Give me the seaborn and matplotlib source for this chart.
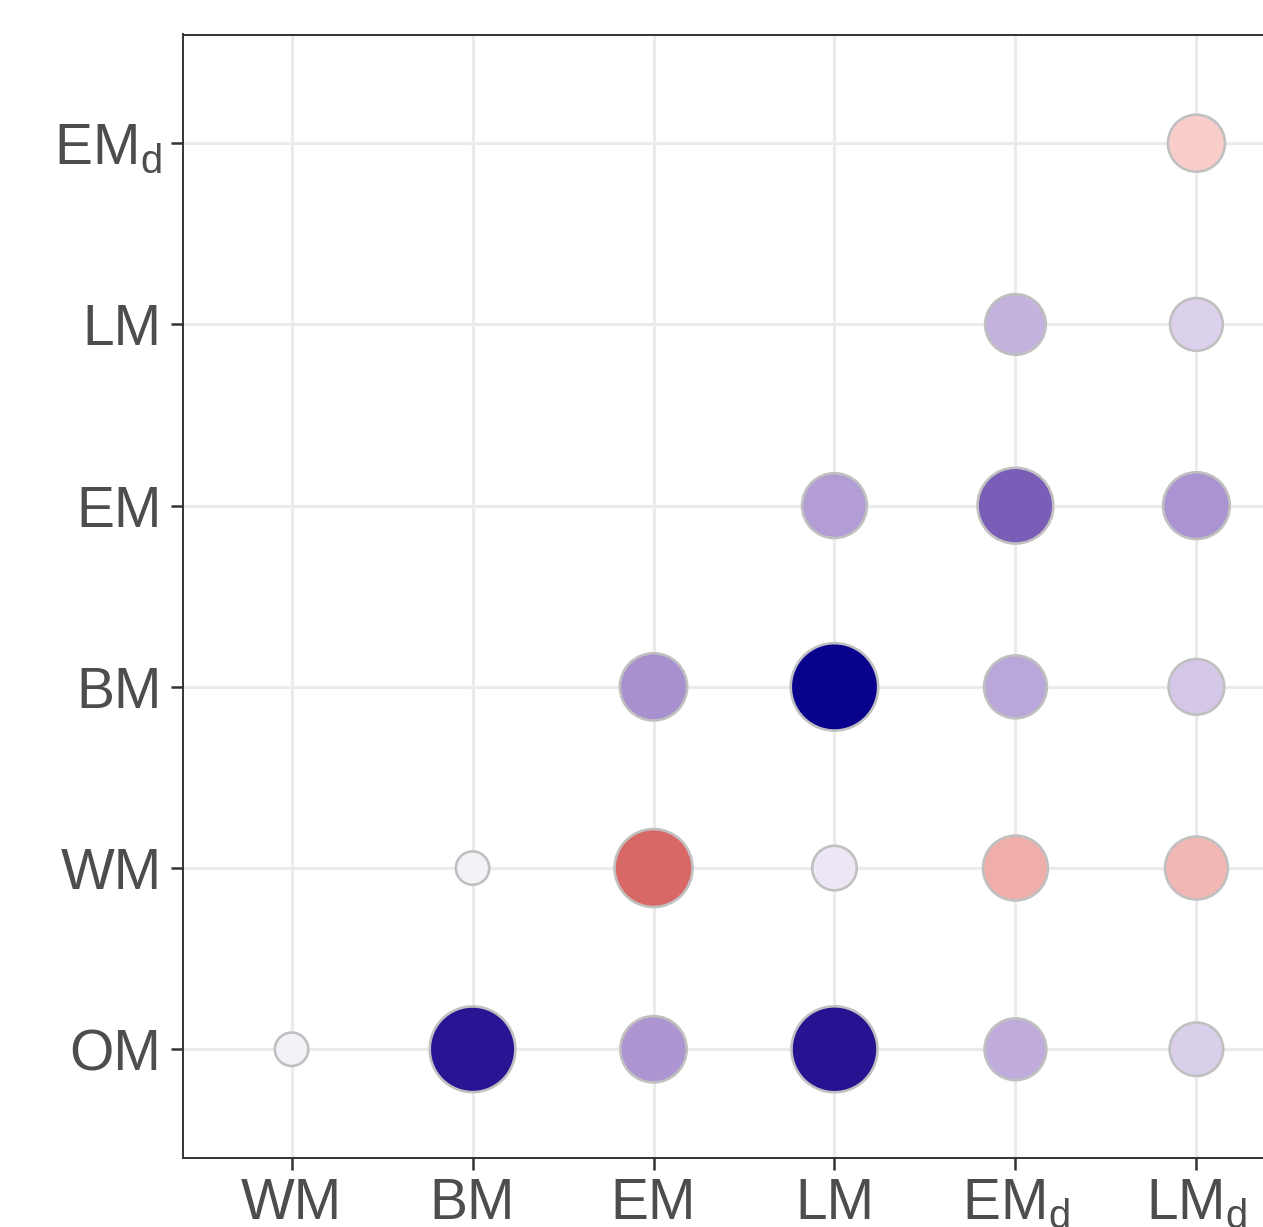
import numpy as np
import pandas as pd
import matplotlib
matplotlib.use("Agg")
import matplotlib.pyplot as plt
from matplotlib.colors import ListedColormap, to_rgb
import seaborn as sns

# ---------------- data ----------------
x_categories = ["WM", "BM", "EM", "LM", "EMd", "LMd"]
y_categories = ["OM", "WM", "BM", "EM", "LM", "EMd"]
tick_labels = {"OM": "OM", "WM": "WM", "BM": "BM", "EM": "EM", "LM": "LM",
               "EMd": r"EM$_\mathregular{d}$", "LMd": r"LM$_\mathregular{d}$"}

cell_x = ["WM", "BM", "EM", "LM", "EMd", "LMd",
          "BM", "EM", "LM", "EMd", "LMd",
          "EM", "LM", "EMd", "LMd",
          "LM", "EMd", "LMd",
          "EMd", "LMd",
          "LMd"]
cell_y = ["OM"] * 6 + ["WM"] * 5 + ["BM"] * 4 + ["EM"] * 3 + ["LM"] * 2 + ["EMd"]
cell_value = [-0.05, -0.93, -0.40, -0.94, -0.31, -0.18,
              -0.05, 0.69, -0.09, 0.37, 0.33,
              -0.42, -0.99, -0.33, -0.21,
              -0.37, -0.63, -0.41,
              -0.29, -0.17,
              0.23]

# ---------------- colour scale (Lab interpolation, like ggplot gradient2) ----------------
def srgb_to_lab(rgb):
    c = np.asarray(rgb, float)
    lin = np.where(c <= 0.04045, c / 12.92, ((c + 0.055) / 1.055) ** 2.4)
    M = np.array([[0.4124, 0.3576, 0.1805],
                  [0.2126, 0.7152, 0.0722],
                  [0.0193, 0.1192, 0.9505]])
    xyz = M @ lin / np.array([0.95047, 1.0, 1.08883])
    f = np.where(xyz > 0.008856, np.cbrt(xyz), 7.787 * xyz + 16 / 116)
    return np.array([116 * f[1] - 16, 500 * (f[0] - f[1]), 200 * (f[1] - f[2])])

def lab_to_srgb(lab):
    L, a, b = lab
    fy = (L + 16) / 116
    fx = fy + a / 500
    fz = fy - b / 200
    f = np.array([fx, fy, fz])
    xyz = np.where(f ** 3 > 0.008856, f ** 3, (f - 16 / 116) / 7.787)
    xyz = xyz * np.array([0.95047, 1.0, 1.08883])
    Minv = np.array([[3.2406, -1.5372, -0.4986],
                     [-0.9689, 1.8758, 0.0415],
                     [0.0557, -0.2040, 1.0570]])
    lin = np.clip(Minv @ xyz, 0, 1)
    c = np.where(lin <= 0.0031308, 12.92 * lin, 1.055 * lin ** (1 / 2.4) - 0.055)
    return np.clip(c, 0, 1)

low, mid, high = "#00008B", "#FFFFFF", "#B8002C"
lab_low, lab_mid, lab_high = (srgb_to_lab(to_rgb(c)) for c in (low, mid, high))
grid = np.linspace(-1, 1, 513)
colors = []
for v in grid:
    if v < 0:
        lab = lab_mid + (lab_low - lab_mid) * (-v)
    else:
        lab = lab_mid + (lab_high - lab_mid) * v
    colors.append(lab_to_srgb(lab))
cmap = ListedColormap(colors)

# ---------------- size scale (area palette, like ggplot scale_size) ----------------
abs_vals = np.abs(cell_value)
vmin, vmax = abs_vals.min(), abs_vals.max()
dmin_px, dmax_px = 36, 90          # outer diameter range in pixels
edge_px = 2.6
size_map = {}
for v in sorted(set(abs_vals)):
    xr = (v - vmin) / (vmax - vmin)
    d_px = dmin_px + (dmax_px - dmin_px) * np.sqrt(xr) - edge_px
    size_map[v] = (d_px * 72 / 100) ** 2

df = pd.DataFrame({
    "x": [x_categories.index(c) for c in cell_x],
    "y": [y_categories.index(c) for c in cell_y],
    "value": cell_value,
    "mag": abs_vals,
})

# ---------------- figure ----------------
sns.set_style("white")
plt.rcParams["font.family"] = ["Liberation Sans", "DejaVu Sans"]
plt.rcParams["mathtext.fontset"] = "custom"
plt.rcParams["mathtext.rm"] = "Liberation Sans"
plt.rcParams["mathtext.it"] = "Liberation Sans:italic"

W, H = 1263, 1227
fig = plt.figure(figsize=(W / 100, H / 100), dpi=100)
left, right, top, bottom = 183, 1305, 34.5, 1158
ax = fig.add_axes([left / W, (H - bottom) / H, (right - left) / W, (bottom - top) / H])
ax.set_facecolor("white")
ax.set_axisbelow(True)

sns.scatterplot(data=df, x="x", y="y", hue="value", palette=cmap, hue_norm=(-1, 1),
                size="mag", sizes=size_map, edgecolor="#c0c0c0", linewidth=edge_px * 0.72,
                legend=False, ax=ax, zorder=3)

ax.set_xlim(-0.6, len(x_categories) - 0.4)
ax.set_ylim(-0.6, len(y_categories) - 0.4)
ax.set_xticks(range(len(x_categories)))
ax.set_xticklabels([tick_labels[c] for c in x_categories])
ax.set_yticks(range(len(y_categories)))
ax.set_yticklabels([tick_labels[c] for c in y_categories])
ax.set_xlabel("")
ax.set_ylabel("")

ax.grid(True, color="#ebebeb", linewidth=2.3)
for s in ax.spines.values():
    s.set_visible(True)
    s.set_color("#333333")
    s.set_linewidth(1.4)

ax.tick_params(axis="both", which="major", bottom=True, left=True, top=False, right=False,
               direction="out", length=8.5, width=1.8, color="#333333",
               labelsize=41, labelcolor="#4d4d4d")
ax.tick_params(axis="x", pad=5)
ax.tick_params(axis="y", pad=7)

fig.savefig("out.png", dpi=100)
